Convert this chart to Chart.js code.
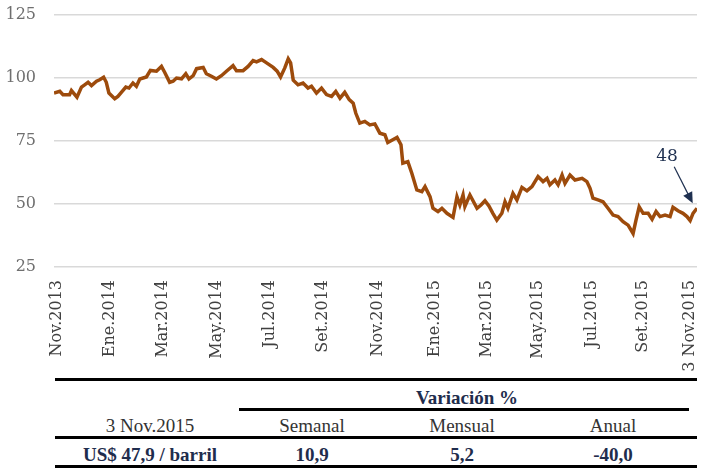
<!DOCTYPE html>
<html>
<head>
<meta charset="utf-8">
<script src="https://cdn.jsdelivr.net/npm/chart.js@4.4.1/dist/chart.umd.min.js"></script>
<style>
  body { margin: 0; background: #fff; }
  #wrap { position: relative; width: 707px; height: 468px; overflow: hidden; }
  #cv { position: absolute; left: 0; top: 0; }
  .rule { position: absolute; background: #000; }
  .cell { position: absolute; transform: translate(-50%, -50%); white-space: nowrap;
          font-family: "Liberation Serif", serif; font-size: 19px; color: #333; }
  .b { font-weight: bold; color: #1f2d4d; }
</style>
</head>
<body>
<div id="wrap">
  <canvas id="cv" width="707" height="375"></canvas>
  <div id="tabla"></div>
</div>
<script>
// precio del petroleo WTI (US$/barril), x = meses desde Nov.2013
const xs = [-0.09,0.13,0.25,0.50,0.57,0.78,0.95,1.07,1.20,1.33,1.52,1.64,1.79,1.89,1.99,2.21,2.33,2.46,2.63,2.75,
  2.90,3.03,3.16,3.41,3.56,3.79,3.98,4.10,4.29,4.42,4.55,4.74,4.90,5.02,5.18,5.31,5.56,5.68,5.87,6.06,
  6.25,6.44,6.69,6.82,7.07,7.26,7.45,7.58,7.77,7.96,8.21,8.36,8.49,8.65,8.78,8.87,8.97,9.15,9.34,9.53,
  9.66,9.85,10.04,10.23,10.42,10.58,10.74,10.92,11.09,11.24,11.34,11.49,11.68,11.87,12.06,12.25,12.44,12.55,12.74,12.90,
  13.05,13.12,13.31,13.46,13.65,13.84,13.96,14.15,14.26,14.45,14.60,14.79,15.02,15.17,15.28,15.40,15.47,15.66,15.93,16.08,
  16.23,16.38,16.53,16.68,16.87,16.99,17.10,17.29,17.44,17.63,17.82,18.01,18.24,18.43,18.58,18.69,18.88,19.00,19.15,19.26,
  19.45,19.64,19.91,20.09,20.21,20.32,20.51,20.70,20.89,21.08,21.27,21.46,21.65,21.84,21.95,22.07,22.22,22.41,22.56,22.71,
  22.86,23.05,23.24,23.35,23.54,23.73,23.88,24.00,24.11,24.26];
const precio = [94.0,94.7,93.4,93.4,95.0,92.4,96.4,97.3,98.3,97.0,98.7,99.3,100.3,98.3,94.0,91.8,92.7,94.3,96.4,96.0,
  98.0,96.7,99.6,100.4,103.0,102.7,104.6,102.3,98.3,98.7,100.0,99.7,101.7,99.6,100.9,103.7,104.2,101.7,100.7,99.6,
  100.9,102.7,104.9,102.9,102.9,104.6,106.9,106.4,107.3,106.0,104.2,102.7,100.4,104.0,107.6,106.0,99.1,97.3,98.0,96.0,
  96.7,94.0,96.0,93.4,92.7,94.7,92.0,94.3,91.4,90.0,86.0,82.1,82.8,81.4,81.8,78.1,77.5,74.4,75.5,76.4,
  73.5,66.2,66.8,62.2,55.6,54.9,56.9,52.9,48.3,47.0,48.3,46.3,44.7,52.9,49.6,53.6,49.0,53.6,48.3,49.6,
  51.3,49.2,46.3,43.6,46.3,50.9,48.3,54.2,51.6,56.6,55.2,56.9,60.9,58.9,60.2,57.6,59.5,57.6,61.5,58.2,
  61.5,59.5,60.2,58.9,56.2,52.3,51.6,50.9,48.3,45.6,45.0,43.0,41.6,38.3,43.6,48.9,46.3,46.3,43.9,47.0,
  45.0,45.6,45.0,48.7,47.3,46.3,45.0,43.4,46.3,48.3];

const tickPos = [0, 2.02, 4.03, 6.06, 8.08, 10.09, 12.18, 14.33, 16.3, 18.22, 20.27, 22.2, 24];
const tickLabels = ['Nov.2013','Ene.2014','Mar.2014','May.2014','Jul.2014','Set.2014','Nov.2014',
  'Ene.2015','Mar.2015','May.2015','Jul.2015','Set.2015','3 Nov.2015'];
const yTicks = [25, 50, 75, 100, 125];
const ultimoLabel = '48';

// tabla de abajo
const grupoTitulo = 'Variación %';
const filaCabecera = ['3 Nov.2015', 'Semanal', 'Mensual', 'Anual'];
const filaValores = ['US$ 47,9 / barril', '10,9', '5,2', '-40,0'];

const navy = '#1f3050';

const arrowPlugin = {
  id: 'flecha',
  afterDatasetsDraw(chart) {
    const meta = chart.getDatasetMeta(0);
    const last = meta.data[meta.data.length - 1];
    const c = chart.ctx;
    const tx = last.x - 4.3, ty = last.y - 5;
    const sx = tx - 18.5, sy = ty - 36.6;
    const len = Math.hypot(tx - sx, ty - sy);
    const dx = (tx - sx) / len, dy = (ty - sy) / len;
    c.save();
    c.strokeStyle = navy;
    c.fillStyle = navy;
    c.lineWidth = 1.2;
    c.beginPath();
    c.moveTo(sx, sy);
    c.lineTo(tx - dx * 8, ty - dy * 8);
    c.stroke();
    const bx = tx - dx * 11, by = ty - dy * 11;
    c.beginPath();
    c.moveTo(tx, ty);
    c.lineTo(bx - dy * 5, by + dx * 5);
    c.lineTo(bx + dy * 5, by - dx * 5);
    c.closePath();
    c.fill();
    c.font = '17px "DejaVu Serif"';
    c.textAlign = 'center';
    c.textBaseline = 'middle';
    c.fillText(ultimoLabel, tx - 25.7, ty - 47);
    c.restore();
  }
};

const chart = new Chart(document.getElementById('cv').getContext('2d'), {
  type: 'line',
  data: {
    datasets: [{
      data: xs.map((x, i) => ({ x: x, y: precio[i] })),
      borderColor: '#9d4b0c',
      borderWidth: 3.5,
      pointRadius: 0,
      tension: 0,
      fill: false
    }]
  },
  options: {
    responsive: false,
    animation: false,
    layout: { padding: { top: 15, right: 10, left: 0, bottom: 0 } },
    plugins: { legend: { display: false }, tooltip: { enabled: false } },
    scales: {
      x: {
        type: 'linear',
        min: xs[0],
        max: xs[xs.length - 1],
        afterBuildTicks: (s) => { s.ticks = tickPos.map(v => ({ value: v })); },
        afterFit: (s) => { s.height = 108; s.paddingLeft = 0; s.paddingRight = 0; },
        grid: { display: false, drawTicks: false },
        border: { display: false },
        ticks: {
          autoSkip: false,
          minRotation: 90,
          maxRotation: 90,
          padding: 13,
          color: '#404040',
          font: { family: 'DejaVu Serif', size: 16 },
          callback: (v, i) => tickLabels[i]
        }
      },
      y: {
        min: 25,
        max: 125,
        afterBuildTicks: (s) => { s.ticks = yTicks.map(v => ({ value: v })); },
        afterFit: (s) => { s.width = 54; s.paddingTop = 0; s.paddingBottom = 0; },
        grid: { color: '#d9d9d9', lineWidth: 1.5, drawTicks: false },
        border: { display: false },
        ticks: {
          padding: 18,
          color: '#6f6f6f',
          font: { family: 'DejaVu Serif', size: 16 }
        }
      }
    }
  },
  plugins: [arrowPlugin]
});

// tabla
const tabla = document.getElementById('tabla');
function rule(x, y, w, h) {
  const d = document.createElement('div');
  d.className = 'rule';
  d.style.left = x + 'px'; d.style.top = y + 'px';
  d.style.width = w + 'px'; d.style.height = h + 'px';
  tabla.appendChild(d);
}
function cell(txt, x, y, bold) {
  const d = document.createElement('div');
  d.className = bold ? 'cell b' : 'cell';
  d.style.left = x + 'px'; d.style.top = y + 'px';
  d.textContent = txt;
  tabla.appendChild(d);
}
const colX = [150, 312, 462, 613];
rule(55, 378, 642, 3);
cell(grupoTitulo, 467, 398, true);
rule(239, 408, 450, 2.5);
filaCabecera.forEach((t, i) => cell(t, colX[i], 426, false));
rule(55, 436, 642, 3);
filaValores.forEach((t, i) => cell(t, colX[i], 455, true));
rule(55, 465, 642, 3);
</script>
</body>
</html>
